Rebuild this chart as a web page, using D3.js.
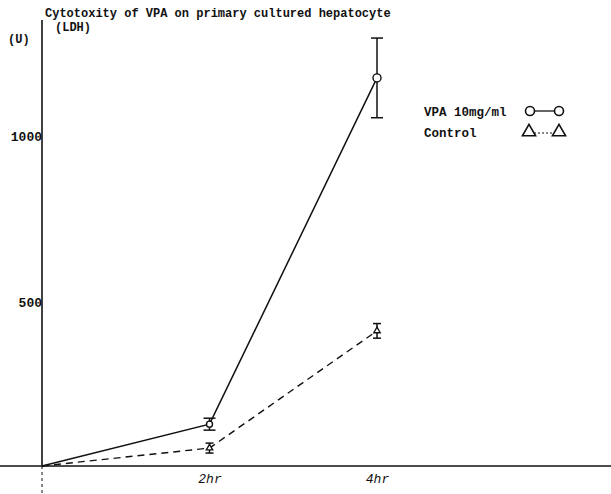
<!DOCTYPE html>
<html><head><meta charset="utf-8">
<script src="https://cdn.jsdelivr.net/npm/d3@7"></script>
<style>body{margin:0;background:#fff}svg text{font-family:"Liberation Mono","DejaVu Sans Mono",monospace;font-weight:bold;fill:#111}</style>
</head><body><svg id="c" width="611" height="494"></svg>
<script>
const times = ["0", "2hr", "4hr"];
const timeValues = [0, 2, 4];
const vpaValues = [0, 126, 1169];
const vpaErrors = [0, 18, 120];
const controlValues = [0, 54, 407];
const controlErrors = [0, 15, 22];
const yTicks = [500, 1000];
const seriesNames = ["VPA 10mg/ml", "Control"];

const svg = d3.select("#c");
const x = d3.scaleLinear().domain([0, 4]).range([42, 377]);
const y = d3.scaleLinear().domain([0, 1000]).range([466, 134]);
const ink = "#111";

// axes
svg.append("line").attr("x1", 0).attr("x2", 611).attr("y1", y(0)).attr("y2", y(0)).attr("stroke", ink).attr("stroke-width", 1.6);
svg.append("line").attr("x1", x(0)).attr("x2", x(0)).attr("y1", 20).attr("y2", y(0)).attr("stroke", ink).attr("stroke-width", 1.6);
svg.append("line").attr("x1", x(0)).attr("x2", x(0)).attr("y1", y(0)).attr("y2", 494).attr("stroke", ink).attr("stroke-width", 1).attr("stroke-dasharray", "3,3");

const yAxis = d3.axisLeft(y).tickValues(yTicks).tickSize(0).tickPadding(0).tickFormat(d3.format("d"));
const gy = svg.append("g").attr("transform", `translate(${x(0)},2)`).call(yAxis);
gy.select(".domain").remove();
gy.selectAll("text").style("font-size", "13px").attr("dy", "0.35em").attr("fill", ink);

const xAxis = d3.axisBottom(x).tickValues(timeValues.slice(1)).tickSize(0).tickPadding(8).tickFormat((d, i) => times[i + 1]);
const gx = svg.append("g").attr("transform", `translate(0,${y(0)})`).call(xAxis);
gx.select(".domain").remove();
gx.selectAll("text").style("font-size", "13px").style("font-weight", "normal").style("font-style", "italic").attr("fill", ink);

// lines
const line = d3.line().x((d, i) => x(timeValues[i])).y(d => y(d));
svg.append("path").datum(vpaValues).attr("d", line).attr("fill", "none").attr("stroke", ink).attr("stroke-width", 1.5);
svg.append("path").datum(controlValues).attr("d", line).attr("fill", "none").attr("stroke", ink).attr("stroke-width", 1.4).attr("stroke-dasharray", "7,5");

// error bars
function errBars(vals, errs, cap) {
  vals.forEach((v, i) => {
    if (errs[i] === 0) return;
    const cx = x(timeValues[i]);
    svg.append("line").attr("x1", cx).attr("x2", cx).attr("y1", y(v + errs[i])).attr("y2", y(v - errs[i])).attr("stroke", ink).attr("stroke-width", 1.5);
    [v + errs[i], v - errs[i]].forEach(e => svg.append("line").attr("x1", cx - cap).attr("x2", cx + cap).attr("y1", y(e)).attr("y2", y(e)).attr("stroke", ink).attr("stroke-width", 1.5));
  });
}
errBars(vpaValues, vpaErrors, 6);
errBars(controlValues, controlErrors, 4);

// markers
vpaValues.forEach((v, i) => { if (i === 0) return;
  svg.append("circle").attr("cx", x(timeValues[i])).attr("cy", y(v)).attr("r", i === 2 ? 4 : 3).attr("fill", "#fff").attr("stroke", ink).attr("stroke-width", 1.4);
});
const tri = d3.symbol().type(d3.symbolTriangle).size(18);
controlValues.forEach((v, i) => { if (i === 0) return;
  svg.append("path").attr("d", tri()).attr("transform", `translate(${x(timeValues[i])},${y(v)})`).attr("fill", "#fff").attr("stroke", ink).attr("stroke-width", 1.3);
});

// title
svg.append("text").attr("x", 45).attr("y", 17).style("font-size", "12px").text("Cytotoxity of VPA on primary cultured hepatocyte");
svg.append("text").attr("x", 55).attr("y", 31).style("font-size", "12px").text("(LDH)");
svg.append("text").attr("x", 8).attr("y", 43).style("font-size", "12px").text("(U)");

// legend
const lg = svg.append("g");
lg.append("text").attr("x", 424).attr("y", 116).style("font-size", "12.5px").text(seriesNames[0]);
lg.append("text").attr("x", 424).attr("y", 137).style("font-size", "12.5px").text(seriesNames[1]);
lg.append("line").attr("x1", 534).attr("x2", 555).attr("y1", 111).attr("y2", 111).attr("stroke", ink).attr("stroke-width", 1.3);
[530, 559].forEach(cx => lg.append("circle").attr("cx", cx).attr("cy", 111).attr("r", 4.5).attr("fill", "#fff").attr("stroke", ink).attr("stroke-width", 1.6));
lg.append("line").attr("x1", 534).attr("x2", 553).attr("y1", 133).attr("y2", 133).attr("stroke", ink).attr("stroke-width", 1).attr("stroke-dasharray", "2,2");
const tri2 = d3.symbol().type(d3.symbolTriangle).size(75);
[529, 559].forEach(cx => lg.append("path").attr("d", tri2()).attr("transform", `translate(${cx},${132})`).attr("fill", "#fff").attr("stroke", ink).attr("stroke-width", 1.6));
</script></body></html>
